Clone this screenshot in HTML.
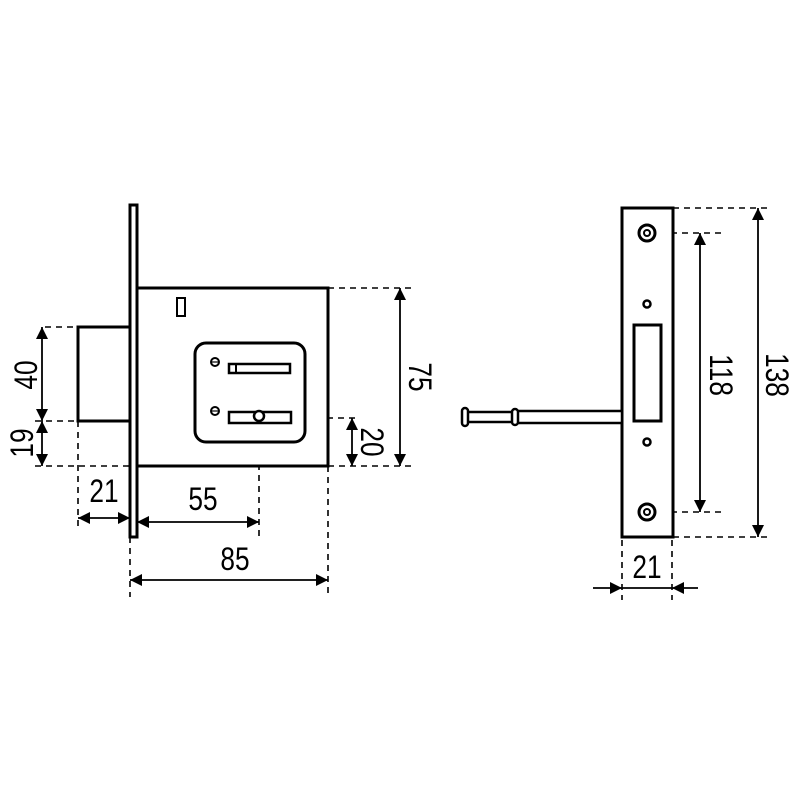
<!DOCTYPE html>
<html><head><style>
html,body{margin:0;padding:0;background:#fff}
svg text{font-family:"Liberation Sans",sans-serif;font-size:32px;fill:#000}
</style></head><body>
<svg width="800" height="800" viewBox="0 0 800 800" xmlns="http://www.w3.org/2000/svg">
<defs>
<marker id="a" viewBox="0 0 10 10" refX="10" refY="5" markerWidth="18" markerHeight="12" markerUnits="userSpaceOnUse" orient="auto-start-reverse"><path d="M0,0 L10,5 L0,10 z" fill="#000"/></marker>
</defs>
<g fill="none" stroke="#000" stroke-width="1.6" stroke-dasharray="6,5">
<line x1="45" y1="327" x2="78" y2="327"/>
<line x1="35" y1="421" x2="78" y2="421"/>
<line x1="35" y1="466" x2="130" y2="466"/>
<line x1="328" y1="466" x2="415" y2="466"/>
<line x1="328" y1="288" x2="415" y2="288"/>
<line x1="305" y1="418" x2="358" y2="418"/>
<line x1="78" y1="421" x2="78" y2="530"/>
<line x1="130" y1="537" x2="130" y2="597"/>
<line x1="259" y1="442" x2="259" y2="540"/>
<line x1="328" y1="466" x2="328" y2="597"/>
<line x1="673" y1="208" x2="770" y2="208"/>
<line x1="660" y1="233" x2="725" y2="233"/>
<line x1="660" y1="512" x2="725" y2="512"/>
<line x1="673" y1="537" x2="770" y2="537"/>
<line x1="622" y1="540" x2="622" y2="600"/>
<line x1="672" y1="540" x2="672" y2="600"/>
</g>
<g stroke="#000" stroke-width="1.8">
<line x1="42" y1="327" x2="42" y2="421" marker-start="url(#a)" marker-end="url(#a)"/>
<line x1="42" y1="421" x2="42" y2="466" marker-start="url(#a)" marker-end="url(#a)"/>
<line x1="400" y1="288" x2="400" y2="466" marker-start="url(#a)" marker-end="url(#a)"/>
<line x1="352" y1="418" x2="352" y2="466" marker-start="url(#a)" marker-end="url(#a)"/>
<line x1="78" y1="518" x2="130" y2="518" marker-start="url(#a)" marker-end="url(#a)"/>
<line x1="137" y1="522" x2="259" y2="522" marker-start="url(#a)" marker-end="url(#a)"/>
<line x1="130" y1="580" x2="328" y2="580" marker-start="url(#a)" marker-end="url(#a)"/>
<line x1="700" y1="233" x2="700" y2="512" marker-start="url(#a)" marker-end="url(#a)"/>
<line x1="758" y1="208" x2="758" y2="537" marker-start="url(#a)" marker-end="url(#a)"/>
<line x1="593" y1="588" x2="622" y2="588" marker-end="url(#a)"/>
<line x1="622" y1="588" x2="672" y2="588"/>
<line x1="698" y1="588" x2="672" y2="588" marker-end="url(#a)"/>
</g>
<g fill="#fff" stroke="#000" stroke-width="3">
<rect x="78" y="327" width="52" height="94"/>
<rect x="137" y="288" width="191" height="178"/>
<rect x="130" y="205" width="7" height="332"/>
<rect x="177" y="298" width="8" height="18" stroke-width="2"/>
<rect x="195" y="343" width="110" height="99" rx="11"/>
<rect x="229" y="364" width="61" height="9" stroke-width="2.5"/>
<line x1="236" y1="364" x2="236" y2="373" stroke-width="2"/>
<rect x="229" y="412" width="62" height="11" stroke-width="2.5"/>
<circle cx="259" cy="416" r="5" stroke-width="2.5"/>
<circle cx="215" cy="362" r="4" stroke-width="2"/>
<line x1="212" y1="362" x2="218" y2="362" stroke-width="1.2"/>
<circle cx="215" cy="411" r="4" stroke-width="2"/>
<line x1="212" y1="411" x2="218" y2="411" stroke-width="1.2"/>
<rect x="622" y="208" width="51" height="329"/>
<circle cx="647" cy="233" r="8"/>
<circle cx="647" cy="233" r="3" stroke-width="2"/>
<circle cx="647" cy="512" r="8"/>
<circle cx="647" cy="512" r="3" stroke-width="2"/>
<circle cx="647" cy="304" r="3.5" stroke-width="2.5"/>
<circle cx="647" cy="442" r="3.5" stroke-width="2.5"/>
<rect x="634" y="325" width="27" height="96"/>
<rect x="517" y="411" width="105" height="12" stroke-width="2.5"/>
<rect x="467" y="412" width="48" height="10" stroke-width="2.5"/>
<rect x="462" y="408" width="6" height="18" rx="3" stroke-width="2.5"/>
<rect x="512" y="409" width="6" height="16" rx="3" stroke-width="2.5"/>
</g>
<g text-anchor="middle">
<text transform="translate(37,375) rotate(-90) scale(0.82,1)">40</text>
<text transform="translate(33,443) rotate(-90) scale(0.82,1)">19</text>
<text transform="translate(409,377) rotate(90) scale(0.82,1)">75</text>
<text transform="translate(361,442) rotate(90) scale(0.82,1)">20</text>
<text transform="translate(104,502) scale(0.82,1)">21</text>
<text transform="translate(203,510) scale(0.82,1)">55</text>
<text transform="translate(235,570) scale(0.82,1)">85</text>
<text transform="translate(710,375) rotate(90) scale(0.82,1)">118</text>
<text transform="translate(766,375) rotate(90) scale(0.82,1)">138</text>
<text transform="translate(647,578) scale(0.82,1)">21</text>
</g>
</svg>
</body></html>
